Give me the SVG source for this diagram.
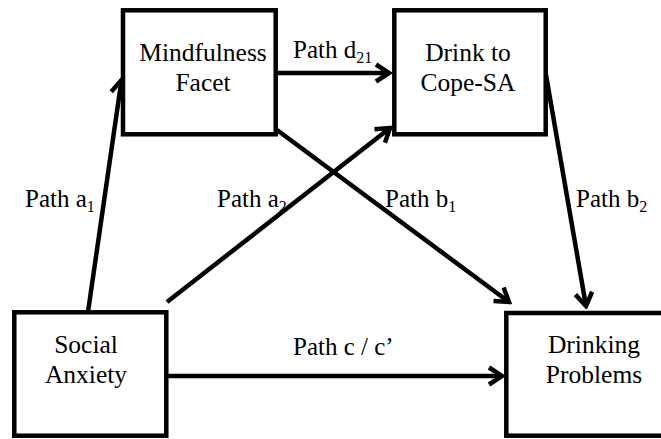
<svg xmlns="http://www.w3.org/2000/svg" width="661" height="439" viewBox="0 0 661 439">
<style>
.box{fill:#fff;stroke:#000;stroke-width:4.5}
.t{font-family:"Liberation Serif","Times New Roman",serif;font-size:25.5px;fill:#000;text-anchor:middle}
.l{font-family:"Liberation Serif","Times New Roman",serif;font-size:25px;fill:#000}
.sub{font-size:16px}
.c{stroke:#000;stroke-width:4.5;fill:none}
</style>
<defs>
<marker id="ah" markerUnits="userSpaceOnUse" markerWidth="18" markerHeight="22" viewBox="0 0 18 22" refX="15" refY="11" orient="auto">
<path d="M2,2.5 L15,11 L2,19.5" fill="none" stroke="#000" stroke-width="4.5"/>
</marker>
</defs>
<rect width="661" height="439" fill="#fff"/>
<g id="connectors">
<line class="c" x1="88" y1="312" x2="121.5" y2="80" marker-end="url(#ah)"/>
<line class="c" x1="167" y1="302" x2="390" y2="128" marker-end="url(#ah)"/>
<line class="c" x1="276" y1="73" x2="389" y2="73" marker-end="url(#ah)"/>
<line class="c" x1="277" y1="130" x2="509" y2="302" marker-end="url(#ah)"/>
<line class="c" x1="546" y1="75" x2="586" y2="306" marker-end="url(#ah)"/>
<line class="c" x1="167" y1="376" x2="502" y2="376" marker-end="url(#ah)"/>
</g>
<g id="labels">
<text class="l" x="25" y="207">Path a<tspan class="sub" dy="5">1</tspan></text>
<text class="l" x="217" y="207">Path a<tspan class="sub" dy="5">2</tspan></text>
<text class="l" x="385" y="207">Path b<tspan class="sub" dy="5">1</tspan></text>
<text class="l" x="576" y="207">Path b<tspan class="sub" dy="5">2</tspan></text>
<text class="l" x="293" y="58">Path d<tspan class="sub" dy="5">21</tspan></text>
<text class="l" x="293" y="355">Path c / c’</text>
</g>
<g id="mindfulness">
<rect class="box" x="123" y="10.3" width="152.7" height="124"/>
<text class="t" x="203" y="61">Mindfulness</text>
<text class="t" x="203" y="91">Facet</text>
</g>
<g id="drink-to-cope">
<rect class="box" x="394.3" y="10.3" width="151.4" height="124"/>
<text class="t" x="468" y="61">Drink to</text>
<text class="t" x="468" y="91">Cope-SA</text>
</g>
<g id="social-anxiety">
<rect class="box" x="14.3" y="312.3" width="152" height="123.4"/>
<text class="t" x="86" y="353">Social</text>
<text class="t" x="86" y="383">Anxiety</text>
</g>
<g id="drinking-problems">
<rect class="box" x="506.3" y="313" width="160" height="122.7"/>
<text class="t" x="594" y="353">Drinking</text>
<text class="t" x="594" y="383">Problems</text>
</g>
</svg>
